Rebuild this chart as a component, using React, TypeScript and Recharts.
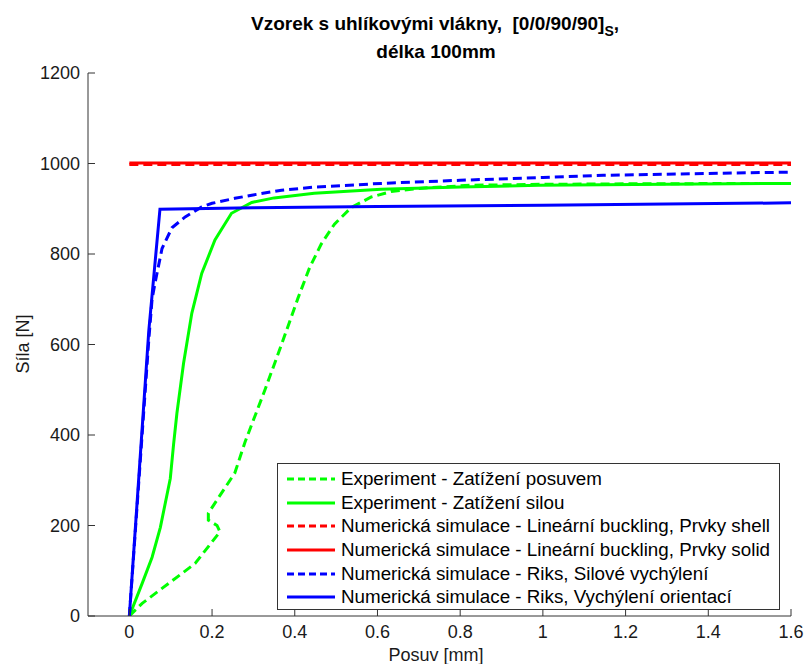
import { Legend, Line, LineChart, XAxis, YAxis } from "recharts";

const FONT = "'Liberation Sans', Arial, Helvetica, sans-serif";

const xTicks = [0, 0.2, 0.4, 0.6, 0.8, 1, 1.2, 1.4, 1.6];
const yTicks = [0, 200, 400, 600, 800, 1000, 1200];

// [posuv mm, síla N]
const expPosuv: [number, number][] = [
  [0, 0], [0.031, 28], [0.095, 72], [0.159, 116], [0.219, 186], [0.212, 200],
  [0.191, 212], [0.191, 227], [0.203, 244], [0.255, 316], [0.28, 385],
  [0.328, 500], [0.368, 600], [0.408, 703], [0.436, 770], [0.464, 822],
  [0.496, 866], [0.537, 903], [0.585, 926], [0.633, 938], [0.7, 945],
  [0.826, 952], [1.0, 954], [1.2, 955], [1.52, 956],
];

const expSilou: [number, number][] = [
  [0, 0], [0.031, 72], [0.055, 130], [0.075, 196], [0.099, 304], [0.107, 380],
  [0.115, 448], [0.131, 558], [0.151, 669], [0.175, 757], [0.207, 831],
  [0.247, 890], [0.296, 914], [0.35, 924], [0.447, 934], [0.609, 943],
  [0.8, 948], [0.99, 952], [1.3, 954], [1.6, 956],
];

const linShell: [number, number][] = [[0, 998], [1.6, 998]];
const linSolid: [number, number][] = [[0, 1001], [1.6, 1001]];

const riksSilove: [number, number][] = [
  [0, 0], [0.047, 610], [0.055, 701], [0.063, 740], [0.079, 812], [0.103, 858],
  [0.135, 882], [0.175, 904], [0.2, 912], [0.255, 923], [0.296, 930], [0.368, 941],
  [0.45, 948], [0.609, 956], [0.8, 963], [1.0, 969], [1.146, 974], [1.4, 978],
  [1.6, 981],
];

const riksOrient: [number, number][] = [
  [0, 0], [0.047, 630], [0.074, 899], [0.3, 902], [0.6, 905], [1.0, 908], [1.6, 913],
];

const toPts = (arr: [number, number][]) => arr.map(([x, y]) => ({ x, y }));

const series = [
  { name: "Experiment - Zatížení posuvem", color: "#00ff00", dashed: true, data: toPts(expPosuv) },
  { name: "Experiment - Zatížení silou", color: "#00ff00", dashed: false, data: toPts(expSilou) },
  { name: "Numerická simulace - Lineární buckling, Prvky shell", color: "#ff0000", dashed: true, data: toPts(linShell) },
  { name: "Numerická simulace - Lineární buckling, Prvky solid", color: "#ff0000", dashed: false, data: toPts(linSolid) },
  { name: "Numerická simulace - Riks, Silové vychýlení", color: "#0000ff", dashed: true, data: toPts(riksSilove) },
  { name: "Numerická simulace - Riks, Vychýlení orientací", color: "#0000ff", dashed: false, data: toPts(riksOrient) },
];

const DASH = "9 5";

function LegendBox() {
  return (
    <div
      style={{
        width: 503,
        height: 147,
        boxSizing: "border-box",
        border: "1px solid #333",
        background: "#fff",
        padding: "3px 0 0 9px",
        fontFamily: FONT,
      }}
    >
      {series.map((s) => (
        <div key={s.name} style={{ display: "flex", alignItems: "center", height: 23.7 }}>
          <svg width={48} height={6} style={{ display: "block" }}>
            <line x1={0} y1={3} x2={48} y2={3} stroke={s.color} strokeWidth={3} strokeDasharray={s.dashed ? "7 4" : undefined} />
          </svg>
          <span style={{ marginLeft: 6, fontSize: 18.8, color: "#000", whiteSpace: "nowrap", lineHeight: "20px" }}>{s.name}</span>
        </div>
      ))}
    </div>
  );
}

export default function App() {
  const tickStyle = { fill: "#1a1a1a", fontSize: 18, fontFamily: FONT };
  return (
    <div style={{ position: "absolute", left: 0, top: 0, width: 805, height: 664, background: "#fff", fontFamily: FONT }}>
      <LineChart width={805} height={664} margin={{ top: 73, right: 14, bottom: 0, left: 0 }}>
        <XAxis
          dataKey="x"
          type="number"
          domain={[-0.1, 1.6]}
          ticks={xTicks}
          interval={0}
          allowDataOverflow
          height={48}
          tickSize={-7}
          tickMargin={16}
          stroke="#333"
          tick={tickStyle}
          tickFormatter={(v) => String(v)}
        />
        <XAxis
          xAxisId="top"
          orientation="top"
          type="number"
          domain={[-0.1, 1.6]}
          ticks={xTicks}
          interval={0}
          allowDataOverflow
          height={0}
          tickSize={-7}
          stroke="#333"
          tick={false}
        />
        <YAxis
          type="number"
          domain={[0, 1200]}
          ticks={yTicks}
          interval={0}
          allowDataOverflow
          width={88}
          tickSize={-7}
          tickMargin={15}
          stroke="#333"
          tick={tickStyle}
        />
        <YAxis
          yAxisId="right"
          orientation="right"
          type="number"
          domain={[0, 1200]}
          ticks={yTicks}
          interval={0}
          width={0}
          tickSize={-7}
          stroke="#333"
          tick={false}
        />
        <Legend
          layout="vertical"
          align="center"
          verticalAlign="middle"
          wrapperStyle={{ left: 277, top: 463, width: 503, height: 147 }}
          content={() => <LegendBox />}
        />
        {series.map((s) => (
          <Line
            key={s.name}
            data={s.data}
            dataKey="y"
            name={s.name}
            type="linear"
            stroke={s.color}
            strokeWidth={3}
            strokeDasharray={s.dashed ? DASH : undefined}
            dot={false}
            activeDot={false}
            isAnimationActive={false}
          />
        ))}
      </LineChart>
      <svg width={805} height={664} style={{ position: "absolute", left: 0, top: 0, pointerEvents: "none" }}>
        <text x={435} y={30} textAnchor="middle" fontFamily={FONT} fontWeight="bold" fontSize={19} fill="#000" style={{ whiteSpace: "pre" }}>
          {"Vzorek s uhlíkovými vlákny,  [0/0/90/90]"}
          <tspan fontSize={14} dy={6}>S</tspan>
          <tspan dy={-6}>,</tspan>
        </text>
        <text x={436} y={58} textAnchor="middle" fontFamily={FONT} fontWeight="bold" fontSize={19} fill="#000">
          délka 100mm
        </text>
        <text x={29} y={344} textAnchor="middle" fontFamily={FONT} fontSize={18} fill="#1a1a1a" transform="rotate(-90, 29, 344)">
          Síla [N]
        </text>
        <text x={436} y={661} textAnchor="middle" fontFamily={FONT} fontSize={18} fill="#1a1a1a">
          Posuv [mm]
        </text>
      </svg>
    </div>
  );
}
